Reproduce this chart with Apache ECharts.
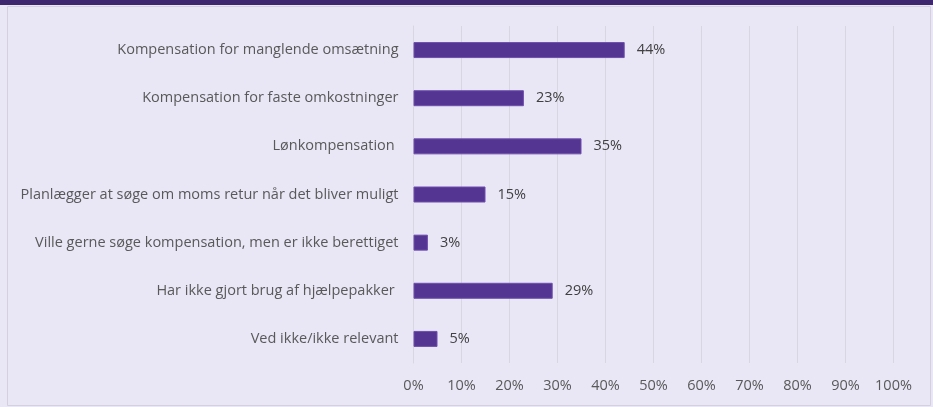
<!DOCTYPE html>
<html>
<head>
<meta charset="utf-8">
<style>
  html, body { margin: 0; padding: 0; background: #e9e6f5; }
  #chart { width: 933px; height: 407px; }
</style>
<script src="https://cdn.jsdelivr.net/npm/echarts@6/dist/echarts.min.js"></script>
</head>
<body>
<div id="chart"></div>
<script>
const categories = [
  "Kompensation for manglende omsætning",
  "Kompensation for faste omkostninger",
  "Lønkompensation ",
  "Planlægger at søge om moms retur når det bliver muligt",
  "Ville gerne søge kompensation, men er ikke berettiget",
  "Har ikke gjort brug af hjælpepakker ",
  "Ved ikke/ikke relevant"
];
const shares = [44, 23, 35, 15, 3, 29, 5];

const chart = echarts.init(document.getElementById("chart"));
chart.setOption({
  backgroundColor: "#e9e6f5",
  animation: false,
  textStyle: { fontFamily: "Open Sans" },
  graphic: [
    {
      type: "rect",
      shape: { x: 0, y: 0, width: 933, height: 5 },
      style: { fill: "#3f2770" }
    },
    {
      type: "rect",
      shape: { x: 7.5, y: 6.5, width: 923, height: 399 },
      style: { fill: "none", stroke: "#d4d0e0", lineWidth: 1 }
    }
  ],
  grid: {
    left: 413.5,
    right: 39.5,
    top: 26,
    bottom: 44
  },
  xAxis: {
    type: "value",
    min: 0,
    max: 100,
    interval: 10,
    axisLine: { show: false },
    axisTick: { show: false },
    splitLine: { lineStyle: { color: "#d9d6e2", width: 1 } },
    axisLabel: {
      formatter: "{value}%",
      color: "#595959",
      fontSize: 14.5,
      margin: 15
    }
  },
  yAxis: {
    type: "category",
    inverse: true,
    data: categories,
    axisLine: { show: true, lineStyle: { color: "#d9d6e2" } },
    axisTick: { show: false },
    axisLabel: {
      color: "#595959",
      fontSize: 14.5,
      margin: 15
    }
  },
  series: [
    {
      type: "bar",
      data: shares,
      barWidth: 16,
      itemStyle: {
        color: "#553592",
        borderColor: "#6e4fae",
        borderWidth: 1
      },
      label: {
        show: true,
        position: "right",
        distance: 12,
        formatter: "{c}%",
        color: "#404040",
        fontSize: 14.5
      }
    }
  ]
});
</script>
</body>
</html>
